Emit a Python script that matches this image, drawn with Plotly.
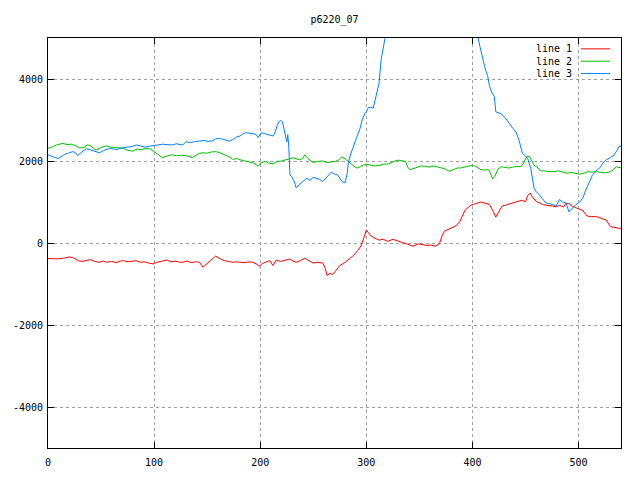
import plotly.graph_objects as go

title_text = "p6220_07"
series_names = ["line 1", "line 2", "line 3"]
series_colors = ["#ff0000", "#00c000", "#0080ff"]

x1 = [0, 5, 10, 15, 20, 24, 28, 32, 36, 40, 44, 48, 52, 55, 60, 64, 68, 71, 75, 79, 83, 87, 91, 95, 99,
      103, 107, 112, 116, 120, 124, 127, 131, 135, 140, 143, 146, 150, 154, 158, 162, 166, 170, 174, 178,
      181, 185, 189, 193, 197, 199, 202, 206, 209, 212, 215, 219, 223, 228, 231, 234, 238, 242, 246, 250,
      254, 259, 261, 263, 266, 268, 271, 275, 280, 284, 288, 292, 295, 298, 300, 302, 304.5, 308, 312, 316,
      320, 325, 329, 334, 339, 344, 349, 353, 357, 361, 365, 369, 371, 373.6, 378, 381, 384.6, 388, 391,
      393, 395.5, 399, 403, 408, 412, 416, 419, 422, 425, 428, 432, 436, 440, 443, 446, 450, 452, 454.5,
      457, 460, 463, 466, 470, 473, 475.5, 479, 482, 486, 488, 491, 494, 497.5, 501, 504, 508, 512, 516,
      520, 523, 526, 530, 534, 538, 540]
y1 = [-380, -390, -385, -370, -340, -360, -430, -450, -420, -405, -450, -470, -440, -470, -450, -480, -440,
      -430, -460, -445, -430, -470, -460, -490, -510, -470, -440, -415, -460, -440, -470, -470, -440, -480,
      -455, -480, -590, -500, -420, -320, -380, -430, -450, -470, -460, -470, -480, -460, -470, -520, -570,
      -500, -450, -430, -550, -415, -450, -430, -390, -440, -470, -430, -370, -430, -490, -470, -490, -600,
      -790, -740, -770, -680, -550, -470, -380, -300, -180, -70, 150, 320, 250, 170, 120, 70, 90, 40, 90, 50,
      10, -30, -80, -20, -40, -60, -50, -80, -10, 150, 290, 340, 390, 420, 520, 680, 800, 860, 930, 960,
      1000, 970, 940, 800, 630, 770, 900, 930, 960, 980, 1000, 1040, 1010, 1150, 1220, 1100, 1020, 970, 940,
      920, 900, 900, 880, 920, 880, 970, 960, 900, 860, 830, 790, 660, 640, 650, 620, 580, 560, 400, 380,
      370, 350]

x2 = [0, 4, 7.8, 11, 14, 18, 22, 26, 30, 34, 37, 40, 43, 46, 50, 55, 59, 63, 67, 71, 75, 80, 84, 88, 92, 96,
      100, 104, 108, 112, 117, 121, 125, 130, 133, 136, 140, 143, 146, 150, 154, 158, 162, 165, 168, 171,
      174, 178, 181, 184, 187, 190, 194, 198, 201, 205, 208, 212, 216, 220, 224, 227, 231, 234, 237, 240,
      242, 245, 248, 250, 254, 259, 262, 265, 268, 271, 274, 277, 280, 283, 287, 290, 292, 296, 300, 304,
      308, 312, 316, 321, 324, 327, 330, 334, 337, 339, 341, 345, 349, 352, 355, 359, 363, 367, 371, 375,
      378, 382, 386, 389, 393, 396, 399, 402, 405, 408, 412, 415, 417, 419, 421, 424, 427, 431, 434, 438,
      442, 445, 448, 450, 452, 454, 456, 458, 461, 464, 468, 472, 477, 481, 485, 489, 493, 497, 501, 505,
      509, 513, 517, 521, 526, 530, 533, 535.5, 538, 540]
y2 = [2310, 2340, 2390, 2410, 2430, 2400, 2410, 2370, 2320, 2330, 2390, 2380, 2300, 2270, 2330, 2370, 2340,
      2330, 2320, 2310, 2260, 2240, 2290, 2270, 2310, 2300, 2230, 2150, 2080, 2120, 2150, 2130, 2140, 2130,
      2100, 2080, 2150, 2190, 2200, 2190, 2220, 2230, 2200, 2170, 2130, 2100, 2040, 2060, 2030, 2010, 1990,
      1960, 1950, 1870, 1960, 1990, 1950, 1930, 1990, 2000, 2020, 2050, 2080, 2060, 2030, 2060, 2150, 2060,
      2000, 1960, 1990, 2000, 1970, 1960, 1990, 1990, 2030, 2100, 2050, 1990, 1920, 1840, 1830, 1890, 1920,
      1900, 1880, 1890, 1920, 1930, 1970, 2000, 2020, 2000, 1990, 1850, 1790, 1820, 1860, 1880, 1870, 1850,
      1880, 1860, 1830, 1800, 1750, 1790, 1830, 1830, 1850, 1870, 1890, 1880, 1840, 1790, 1780, 1790, 1700,
      1560, 1620, 1800, 1860, 1840, 1830, 1850, 1870, 1860, 1930, 2050, 2120, 2100, 1990, 1900, 1850, 1760,
      1760, 1740, 1740, 1760, 1730, 1700, 1720, 1700, 1680, 1700, 1740, 1730, 1740, 1720, 1710, 1740, 1790,
      1860, 1850, 1830]

x3 = [0, 3, 6, 9.4, 12, 15.7, 19, 23.5, 26, 28, 31, 34, 36, 40, 44, 48.6, 52, 55, 58, 62, 65, 67.5, 71, 75,
      79, 83, 87, 91, 95.5, 99, 103, 108, 112, 117, 121, 124, 127, 130, 134, 138, 143, 147, 151, 155, 158,
      161.5, 165, 168, 171, 175, 178, 181, 184, 187, 190, 193, 196, 198, 201, 205, 208, 212, 214, 216, 218,
      219.5, 221, 222.7, 224, 225, 226, 227, 228, 229.7, 232, 234, 237, 240, 244, 247, 250, 253, 256, 259,
      262, 265, 267, 270, 273, 277, 280, 282, 283, 285, 288, 291, 294, 296, 298.5, 300, 301.7, 304, 306.5,
      309, 312, 314, 316, 318, 330, 350, 370, 390, 400, 405, 407, 409.6, 412, 414.3, 416, 418, 420.6, 422,
      424, 427, 431, 434.7, 438, 441, 444, 447, 450, 452, 455, 458, 460, 463, 466, 469, 472, 475.5, 479,
      482, 485, 488, 491, 494, 497.5, 501, 504, 507, 510, 513, 516, 520, 523, 526, 530, 533.5, 536, 538, 540]
y3 = [2150, 2110, 2090, 2060, 2110, 2160, 2190, 2230, 2200, 2130, 2200, 2260, 2300, 2270, 2240, 2200, 2250,
      2280, 2310, 2290, 2280, 2310, 2330, 2340, 2350, 2390, 2370, 2340, 2360, 2380, 2390, 2410, 2400, 2390,
      2420, 2400, 2390, 2470, 2450, 2470, 2490, 2500, 2480, 2490, 2540, 2550, 2530, 2500, 2480, 2540, 2590,
      2610, 2670, 2690, 2680, 2660, 2650, 2570, 2690, 2660, 2640, 2610, 2700, 2870, 2970, 2990, 2950, 2710,
      2550, 2470, 2640, 2300, 1660, 1620, 1500, 1340, 1420, 1500, 1580, 1530, 1600, 1580, 1550, 1500, 1580,
      1680, 1730, 1680, 1660, 1500, 1470, 1700, 1950, 2150, 2390, 2580, 2790, 3000, 3150, 3200, 3300, 3310,
      3290, 3600, 3900, 4480, 4800, 5050, 5900, 6600, 6900, 6200, 5400, 5050, 4800, 4480, 4250, 4080, 3840,
      3680, 3580, 3200, 3180, 3150, 3050, 2910, 2800, 2710, 2500, 2190, 2120, 2070, 1820, 1340, 1250, 1180,
      1080, 980, 960, 940, 900, 1060, 1000, 980, 760, 850, 940, 1000, 1100, 1300, 1500, 1650, 1750, 1830,
      1950, 2030, 2080, 2150, 2250, 2350, 2360]

x_ticks = [0, 100, 200, 300, 400, 500]
y_ticks = [-4000, -2000, 0, 2000, 4000]

FONT = dict(family="DejaVu Sans Mono", size=10, color="black")

fig = go.Figure()
for xs, ys, name, col in zip([x1, x2, x3], [y1, y2, y3], series_names, series_colors):
    fig.add_trace(go.Scatter(x=xs, y=ys, mode="lines", name=name,
                             line=dict(color=col, width=1), showlegend=False))

# manual gnuplot-style legend (text left, sample right), in paper coords
L, R, T, B = 48, 621, 38, 453
W, H = R - L, B - T
def px(xp):
    return (xp - L) / W
def py(yp):
    return (B - yp) / H
rows = [49, 61.5, 74]
for name, col, yy in zip(series_names, series_colors, rows):
    fig.add_annotation(x=px(574), y=py(yy), xref="paper", yref="paper", text=name,
                       showarrow=False, xanchor="right", yanchor="middle", font=FONT)
    fig.add_shape(type="line", xref="paper", yref="paper", x0=px(581), x1=px(610),
                  y0=py(yy), y1=py(yy), line=dict(color=col, width=1))

axis_common = dict(showline=True, linecolor="black", linewidth=1, mirror="ticks",
                   ticks="inside", ticklen=6, tickcolor="black", tickwidth=1,
                   showgrid=True, gridcolor="#a0a0a0", griddash="dot", gridwidth=1,
                   zeroline=False, tickfont=FONT)

fig.update_layout(
    width=640, height=480,
    margin=dict(l=L, r=640 - R, t=T, b=480 - B),
    paper_bgcolor="white", plot_bgcolor="white",
    title=dict(text=title_text, x=0.5, xref="paper", xanchor="center",
               y=1 - 19 / 480, yref="container", yanchor="middle", font=FONT),
    xaxis=dict(range=[0, 540], tickvals=x_ticks, ticktext=[str(v) for v in x_ticks],
               ticklabelstandoff=5, **axis_common),
    yaxis=dict(range=[-5000, 5000], tickvals=y_ticks, ticktext=[str(v) for v in y_ticks],
               ticklabelstandoff=2, **axis_common),
    showlegend=False,
)

fig.write_html("out.html", config={"displayModeBar": False},
               post_script="document.body.style.margin='0';")
